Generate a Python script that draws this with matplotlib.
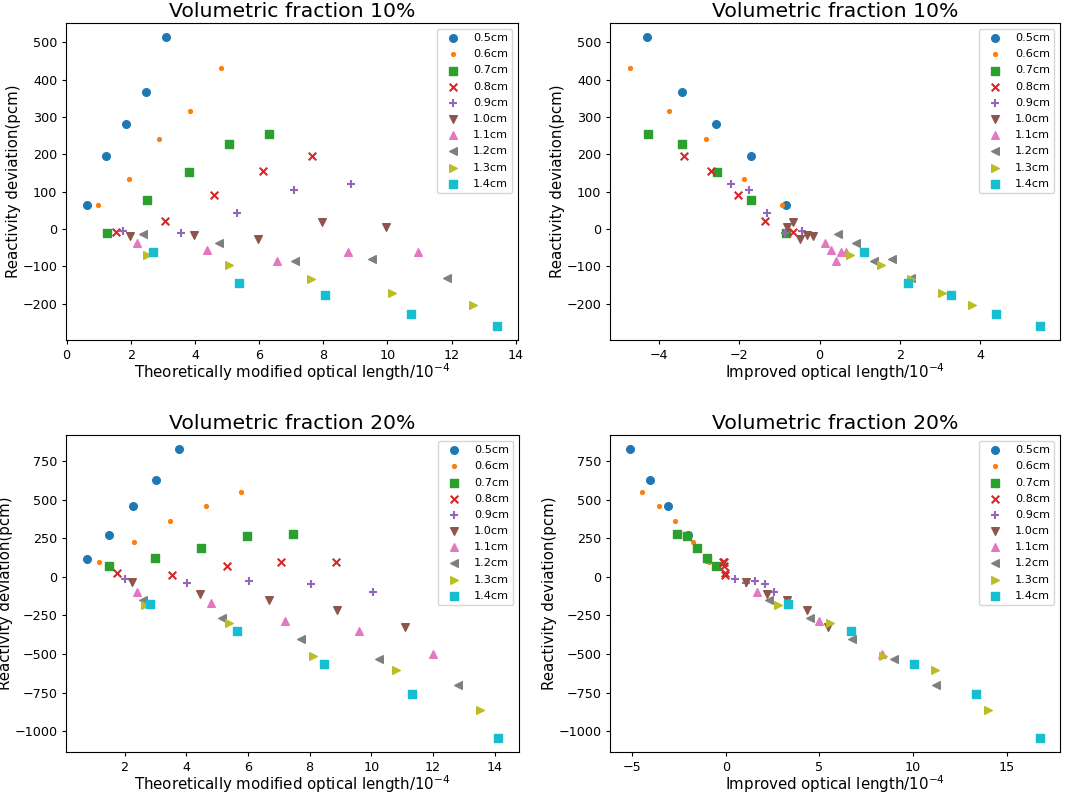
import matplotlib
matplotlib.use("Agg")
import matplotlib.pyplot as plt

labels = ["0.5cm", "0.6cm", "0.7cm", "0.8cm", "0.9cm",
          "1.0cm", "1.1cm", "1.2cm", "1.3cm", "1.4cm"]
markers = ["o", ".", "s", "x", "+", "v", "^", "<", ">", "s"]

# ---- Volumetric fraction 10% ----
react10 = [
    [64, 196, 281, 367, 513],
    [65, 135, 240, 315, 432],
    [-10, 77, 152, 228, 255],
    [-8, 20, 91, 156, 195],
    [-6, -11, 43, 104, 121],
    [-18, -16, -28, 19, 5],
    [-38, -57, -85, -62, -63],
    [-14, -38, -87, -80, -131],
    [-70, -96, -134, -171, -203],
    [-62, -145, -176, -227, -259],
]
theo10 = [
    [0.62, 1.24, 1.86, 2.48, 3.10],
    [0.97, 1.93, 2.89, 3.85, 4.82],
    [1.25, 2.52, 3.80, 5.05, 6.32],
    [1.53, 3.06, 4.59, 6.11, 7.66],
    [1.77, 3.55, 5.31, 7.10, 8.87],
    [1.98, 3.97, 5.97, 7.96, 9.96],
    [2.19, 4.38, 6.57, 8.76, 10.95],
    [2.38, 4.75, 7.13, 9.51, 11.87],
    [2.50, 5.07, 7.62, 10.15, 12.68],
    [2.69, 5.38, 8.06, 10.75, 13.43],
]
impr10 = [
    [-0.84, -1.71, -2.57, -3.43, -4.29],
    [-0.93, -1.88, -2.81, -3.75, -4.70],
    [-0.83, -1.70, -2.56, -3.42, -4.27],
    [-0.67, -1.35, -2.02, -2.69, -3.37],
    [-0.44, -0.87, -1.31, -1.75, -2.19],
    [-0.15, -0.31, -0.49, -0.65, -0.82],
    [0.14, 0.28, 0.41, 0.54, 0.67],
    [0.47, 0.91, 1.36, 1.80, 2.28],
    [0.77, 1.52, 2.28, 3.04, 3.79],
    [1.10, 2.20, 3.28, 4.38, 5.47],
]

# ---- Volumetric fraction 20% ----
react20 = [
    [114, 272, 458, 627, 825],
    [99, 225, 363, 456, 547],
    [67, 125, 188, 264, 277],
    [24, 9, 73, 97, 97],
    [-17, -39, -28, -45, -99],
    [-32, -108, -147, -218, -324],
    [-97, -169, -285, -354, -499],
    [-153, -264, -404, -532, -698],
    [-181, -296, -512, -605, -862],
    [-177, -354, -566, -756, -1041],
]
theo20 = [
    [0.77, 1.50, 2.26, 3.01, 3.76],
    [1.16, 2.31, 3.47, 4.63, 5.78],
    [1.49, 2.98, 4.47, 5.97, 7.46],
    [1.77, 3.55, 5.32, 7.08, 8.86],
    [2.01, 4.02, 6.03, 8.05, 10.06],
    [2.23, 4.45, 6.67, 8.90, 11.10],
    [2.40, 4.81, 7.21, 9.61, 12.01],
    [2.59, 5.15, 7.71, 10.26, 12.82],
    [2.65, 5.39, 8.11, 10.80, 13.51],
    [2.82, 5.66, 8.48, 11.31, 14.12],
]
impr20 = [
    [-1.02, -2.03, -3.06, -4.06, -5.09],
    [-0.88, -1.77, -2.69, -3.57, -4.47],
    [-0.51, -1.02, -1.55, -2.08, -2.61],
    [-0.03, -0.06, -0.09, -0.12, -0.15],
    [0.51, 1.06, 1.54, 2.07, 2.60],
    [1.08, 2.19, 3.27, 4.36, 5.44],
    [1.68, 3.34, 5.00, 6.67, 8.34],
    [2.30, 4.49, 6.75, 8.99, 11.24],
    [2.79, 5.56, 8.39, 11.18, 13.99],
    [3.34, 6.68, 10.04, 13.37, 16.75],
]

fig = plt.figure(figsize=(10.65, 7.94), dpi=100)
W, H = 1065, 794

def rect(x0, x1, y0, y1):
    return [x0 / W, 1 - y1 / H, (x1 - x0) / W, (y1 - y0) / H]

panels = [
    (rect(66, 518, 23, 340), theo10, react10, "Volumetric fraction 10%",
     "Theoretically modified optical length/$10^{-4}$"),
    (rect(610, 1060, 23, 340), impr10, react10, "Volumetric fraction 10%",
     "Improved optical length/$10^{-4}$"),
    (rect(66, 519, 435, 752), theo20, react20, "Volumetric fraction 20%",
     "Theoretically modified optical length/$10^{-4}$"),
    (rect(610, 1060, 435, 752), impr20, react20, "Volumetric fraction 20%",
     "Improved optical length/$10^{-4}$"),
]

for r, xs, ys, title, xlabel in panels:
    ax = fig.add_axes(r)
    for i, lab in enumerate(labels):
        ax.scatter(xs[i], ys[i], marker=markers[i], color=f"C{i}", label=lab, s=30)
    ax.set_title(title, fontsize=14.7, pad=4.5)
    ax.set_xlabel(xlabel, fontsize=10.8, labelpad=0)
    ax.set_ylabel("Reactivity deviation(pcm)", fontsize=10.8, labelpad=1)
    ax.tick_params(labelsize=9.2, length=3.2, pad=3)
    ax.legend(loc="upper right", fontsize=8.1, labelspacing=0.55)

fig.savefig("out.png", dpi=100)
